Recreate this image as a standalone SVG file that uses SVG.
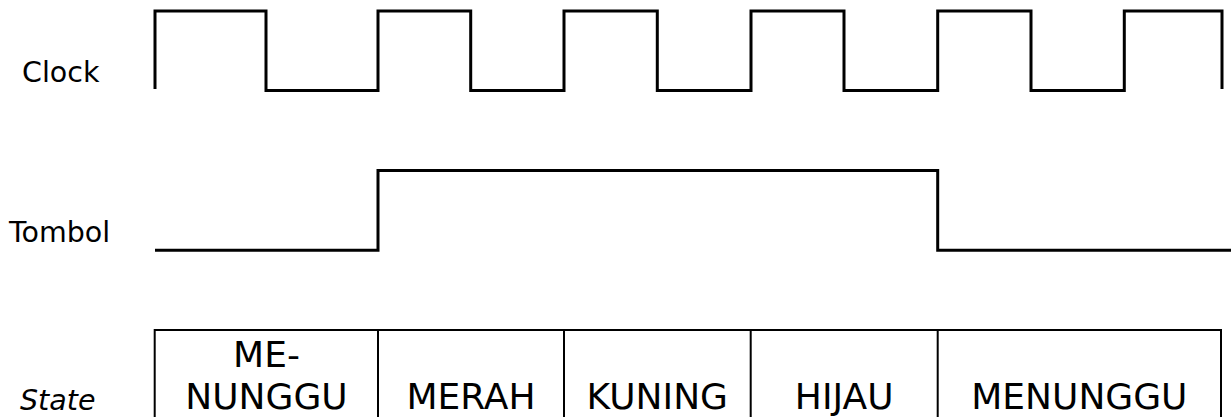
<svg xmlns="http://www.w3.org/2000/svg" width="1231" height="417" viewBox="0 0 1231 417">
<style>
.lbl{font-family:"DejaVu Sans",sans-serif;font-size:28.5px;fill:#000}
.st{font-family:"DejaVu Sans",sans-serif;font-size:36px;fill:#000;text-anchor:middle}
.wave{fill:none;stroke:#000;stroke-width:3;stroke-linejoin:miter}
.box{fill:none;stroke:#000;stroke-width:2}
</style>
<rect width="1231" height="417" fill="#fff"/>
<g id="clock">
<text class="lbl" x="22" y="82">Clock</text>
<path class="wave" d="M155,89 V11 H266 V90.5 H378 V11 H470.7 V90.5 H564 V11 H657.3 V90.5 H751 V11 H844 V90.5 H937.7 V11 H1031 V90.5 H1124.3 V11 H1222 V89"/>
</g>
<g id="tombol">
<text class="lbl" x="9" y="242">Tombol</text>
<path class="wave" d="M155,250.3 H378 V170.5 H937.7 V250.3 H1231"/>
</g>
<g id="state">
<text class="lbl" x="20" y="410" font-style="italic">State</text>
<path class="box" d="M154.7,420 V330 H1221 V420 M378,330 V420 M564,330 V420 M750.7,330 V420 M937.7,330 V420"/>
<text class="st" x="266.5" y="366.7">ME-</text>
<text class="st" x="266.5" y="409.3">NUNGGU</text>
<text class="st" x="471" y="409.3">MERAH</text>
<text class="st" x="657.3" y="409.3">KUNING</text>
<text class="st" x="844.2" y="409.3">HIJAU</text>
<text class="st" x="1079.4" y="409.3">MENUNGGU</text>
</g>
</svg>
